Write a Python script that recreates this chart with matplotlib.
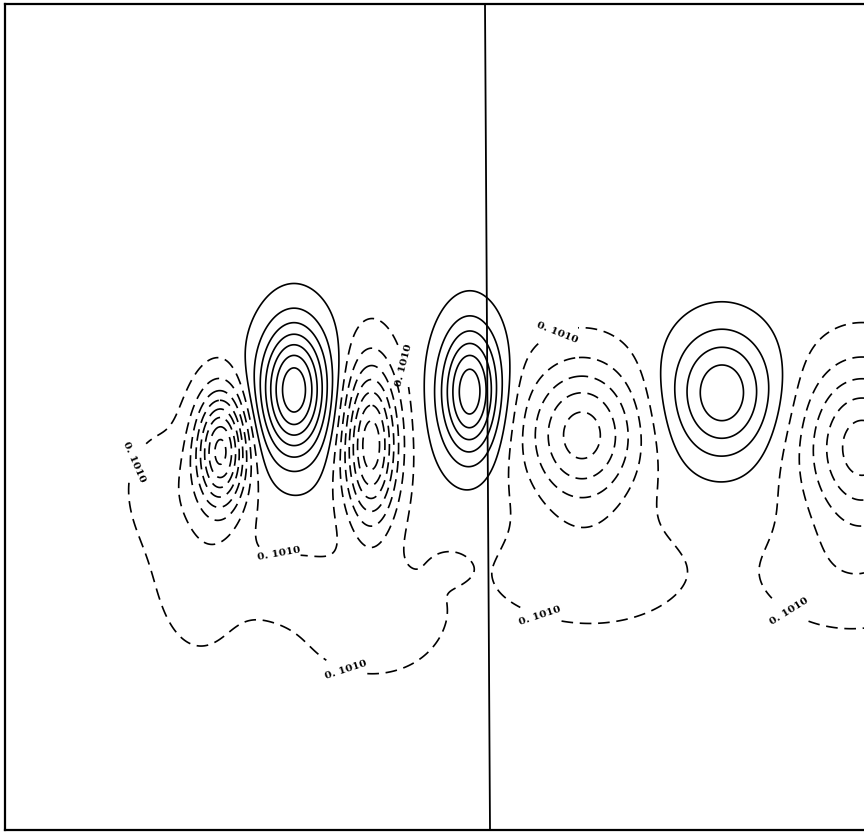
import numpy as np
import matplotlib
matplotlib.use("Agg")
import matplotlib.pyplot as plt

# cells (page units, y grows downwards)
cell_x = [221, 294, 371, 470, 582, 722, 862]
cell_y = [450, 390, 445, 392, 435, 393, 447]
cell_sx = [18, 24, 19, 21, 40, 35, 42]
cell_sy = [40, 46, 55, 45, 50, 44, 58]
cell_amp = [-7.5, 7.3, -7.2, 6.3, -5.0, 4.3, -5.0]

# shallow troughs under the row of cells
trough_x = [160, 200, 290, 372, 448, 590, 850]
trough_y = [485, 555, 585, 622, 565, 572, 575]
trough_sx = [28, 36, 35, 52, 16, 75, 65]
trough_sy = [40, 72, 24, 40, 13, 42, 42]
trough_amp = [-0.75, -1.1, -0.85, -1.15, -0.45, -1.05, -1.05]

outer_level = -0.5
dashed_levels = [-7.5, -6.5, -5.5, -4.5, -3.5, -2.5, -1.5]
solid_levels = [0.5, 1.5, 2.5, 3.5, 4.5, 5.5, 6.5]
label_text = "0. 1010"
label_x = [130, 280, 407, 557, 540, 350, 790]
label_y = [460, 537, 365, 333, 617, 657, 610]

divider_x = [485, 490]
divider_y = [4, 830]

plt.rcParams["font.family"] = "DejaVu Serif"


def gauss_sum(xx, yy, cx, cy, sx, sy, amp):
    field = np.zeros_like(xx)
    for x0, y0, wx, wy, a in zip(cx, cy, sx, sy, amp):
        field += a * np.exp(-0.5 * (((xx - x0) / wx) ** 2 + ((yy - y0) / wy) ** 2))
    return field


x = np.linspace(5, 864, 700)
y = np.linspace(4, 830, 680)
xx, yy = np.meshgrid(x, y)
field = gauss_sum(xx, yy, cell_x, cell_y, cell_sx, cell_sy, cell_amp)
field += gauss_sum(xx, yy, trough_x, trough_y, trough_sx, trough_sy, trough_amp)

fig = plt.figure(figsize=(8.64, 8.33), dpi=100)
ax = fig.add_axes([5 / 864, 3 / 833, 859 / 864, 826 / 833])

dash = [(0, (7, 4))]
ax.contour(xx, yy, field, levels=dashed_levels, colors="black",
           linewidths=1.2, linestyles=dash)
cs_outer = ax.contour(xx, yy, field, levels=[outer_level], colors="black",
                      linewidths=1.2, linestyles=dash)
ax.contour(xx, yy, field, levels=solid_levels, colors="black",
           linewidths=1.2, linestyles="solid")
labels = ax.clabel(cs_outer, manual=list(zip(label_x, label_y)),
                   fmt={outer_level: label_text}, inline=True,
                   inline_spacing=2, fontsize=7.5)
for t in labels:
    t.set_fontweight("bold")

ax.plot(divider_x, divider_y, color="black", lw=1.3)

ax.set_xlim(5, 864)
ax.set_ylim(830, 4)
ax.set_xticks([])
ax.set_yticks([])
for side in ["left", "top", "bottom"]:
    ax.spines[side].set_linewidth(1.6)
ax.spines["right"].set_visible(False)

fig.savefig("out.png", dpi=100)
